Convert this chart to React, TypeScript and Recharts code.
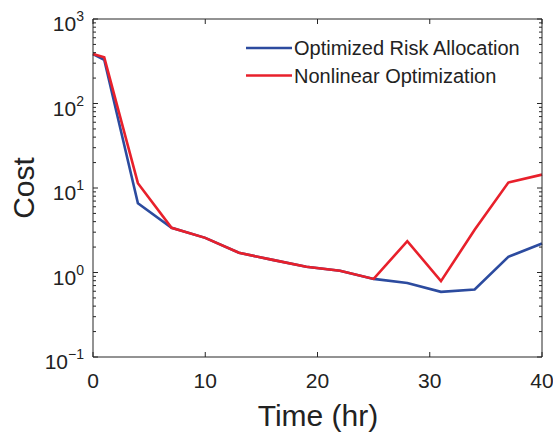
import React from 'react';
import { LineChart, Line, XAxis, YAxis } from 'recharts';

// ---- data ----
const times = [0, 1, 4, 7, 10, 13, 16, 19, 22, 25, 28, 31, 34, 37, 40];
const optimizedRisk = [385, 329, 6.6, 3.38, 2.57, 1.71, 1.41, 1.17, 1.05, 0.84, 0.75, 0.59, 0.63, 1.53, 2.2];
const nonlinearOpt = [385, 352, 11.4, 3.38, 2.57, 1.71, 1.41, 1.17, 1.05, 0.84, 2.35, 0.79, 3.2, 11.6, 14.4];
const seriesKeys = ['ora', 'nlo'];
const seriesNames = ['Optimized Risk Allocation', 'Nonlinear Optimization'];
const seriesColors = ['#2c4b9f', '#e8202b'];

const xTicks = [0, 10, 20, 30, 40];
const yMajor = [0.1, 1, 10, 100, 1000];
const yExponents = ['\u22121', '0', '1', '2', '3'];
const yMinorMultipliers = [2, 3, 4, 5, 6, 7, 8, 9];
const yMinor = yMajor.slice(0, -1).flatMap((d) => yMinorMultipliers.map((m) => d * m));
const yTicks = [...yMajor, ...yMinor].sort((a, b) => a - b);

const data = times.map((t, i) => ({ t, ora: optimizedRisk[i], nlo: nonlinearOpt[i] }));

const FONT = '"Liberation Sans", Arial, Helvetica, sans-serif';
const AXIS = '#262626';
const W = 553;
const H = 433;

const isMajor = (v: number) => yMajor.some((m) => Math.abs(m - v) / m < 1e-6);

const BottomTick = (props: any) => {
  const { x, y, payload } = props;
  return (
    <g>
      <line x1={x} y1={y} x2={x} y2={y - 5} stroke={AXIS} strokeWidth={1} />
      <text x={x} y={y + 31} textAnchor="middle" fontSize={21} fontFamily={FONT} fill="#222">
        {payload.value}
      </text>
    </g>
  );
};

const TopTick = (props: any) => {
  const { x, y } = props;
  return <line x1={x} y1={y} x2={x} y2={y + 5} stroke={AXIS} strokeWidth={1} />;
};

const LeftTick = (props: any) => {
  const { x, y, payload } = props;
  const major = isMajor(payload.value);
  const idx = yMajor.findIndex((m) => Math.abs(m - payload.value) / m < 1e-6);
  return (
    <g>
      <line x1={x} y1={y} x2={x + (major ? 5 : 3)} y2={y} stroke={AXIS} strokeWidth={1} />
      {major && (
        <text x={x - 9} y={y + 12} textAnchor="end" fontSize={21} fontFamily={FONT} fill="#222">
          10
          <tspan dy={-10} fontSize={14}>
            {yExponents[idx]}
          </tspan>
        </text>
      )}
    </g>
  );
};

const RightTick = (props: any) => {
  const { x, y, payload } = props;
  const major = isMajor(payload.value);
  return <line x1={x} y1={y} x2={x - (major ? 5 : 3)} y2={y} stroke={AXIS} strokeWidth={1} />;
};

export default function App() {
  return (
    <div style={{ position: 'absolute', left: 0, top: 0, width: W, height: H, background: '#fff' }}>
      <LineChart width={W} height={H} data={data} margin={{ top: 0, right: 0, bottom: 0, left: 0 }}>
        <XAxis
          xAxisId="b"
          dataKey="t"
          type="number"
          domain={[0, 40]}
          ticks={xTicks}
          interval={0}
          height={76}
          tickSize={0}
          tickMargin={0}
          tickLine={false}
          axisLine={{ stroke: AXIS, strokeWidth: 1 }}
          tick={<BottomTick />}
        />
        <XAxis
          xAxisId="t"
          orientation="top"
          dataKey="t"
          type="number"
          domain={[0, 40]}
          ticks={xTicks}
          interval={0}
          height={19}
          tickSize={0}
          tickMargin={0}
          tickLine={false}
          axisLine={{ stroke: AXIS, strokeWidth: 1 }}
          tick={<TopTick />}
        />
        <YAxis
          yAxisId="l"
          type="number"
          scale="log"
          domain={[0.1, 1000]}
          ticks={yTicks}
          interval={0}
          width={93}
          tickSize={0}
          tickMargin={0}
          tickLine={false}
          allowDataOverflow
          axisLine={{ stroke: AXIS, strokeWidth: 1 }}
          tick={<LeftTick />}
        />
        <YAxis
          yAxisId="r"
          orientation="right"
          type="number"
          scale="log"
          domain={[0.1, 1000]}
          ticks={yTicks}
          interval={0}
          width={11}
          tickSize={0}
          tickMargin={0}
          tickLine={false}
          allowDataOverflow
          axisLine={{ stroke: AXIS, strokeWidth: 1 }}
          tick={<RightTick />}
        />
        {seriesKeys.map((k, i) => (
          <Line
            key={k}
            xAxisId="b"
            yAxisId="l"
            dataKey={k}
            name={seriesNames[i]}
            stroke={seriesColors[i]}
            strokeWidth={2.6}
            dot={false}
            activeDot={false}
            isAnimationActive={false}
            type="linear"
          />
        ))}
      </LineChart>
      <svg
        width={W}
        height={H}
        style={{ position: 'absolute', left: 0, top: 0, pointerEvents: 'none' }}
      >
        <text
          x={0}
          y={0}
          transform="translate(34, 188) rotate(-90)"
          textAnchor="middle"
          fontSize={30}
          fontFamily={FONT}
          fill="#222"
        >
          Cost
        </text>
        <text x={318} y={426} textAnchor="middle" fontSize={30} fontFamily={FONT} fill="#222">
          Time (hr)
        </text>
        {seriesNames.map((name, i) => (
          <g key={name}>
            <line
              x1={246}
              x2={292}
              y1={48 + i * 27.5}
              y2={48 + i * 27.5}
              stroke={seriesColors[i]}
              strokeWidth={2.6}
            />
            <text x={294} y={55 + i * 27.5} fontSize={20} fontFamily={FONT} fill="#222">
              {name}
            </text>
          </g>
        ))}
      </svg>
    </div>
  );
}
